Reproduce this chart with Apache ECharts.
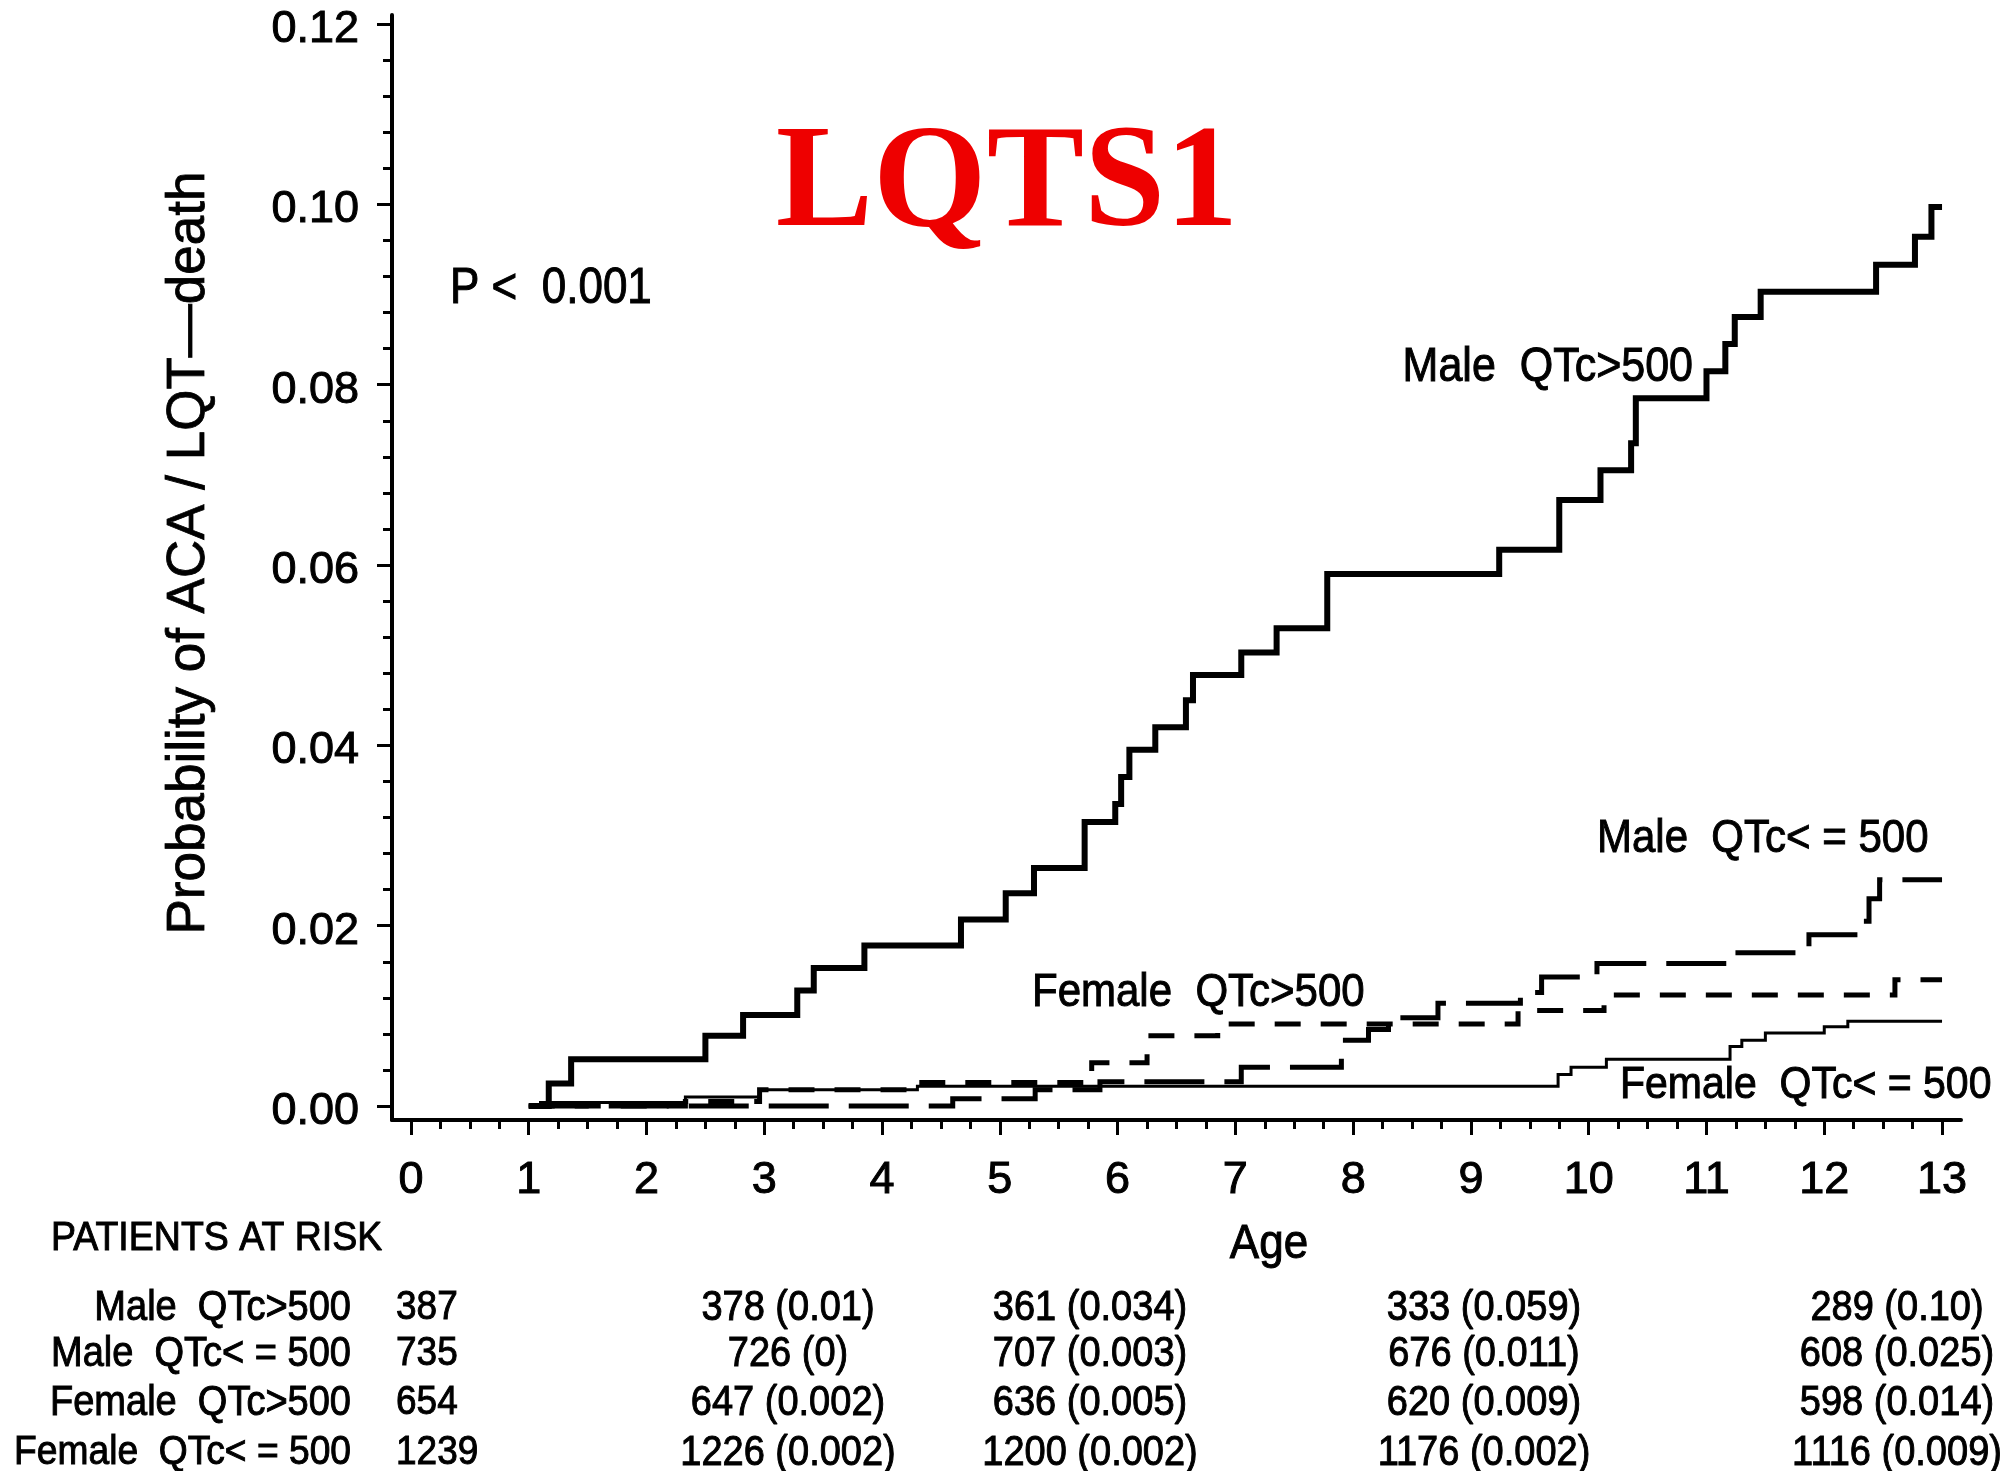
<!DOCTYPE html>
<html>
<head>
<meta charset="utf-8">
<script src="https://cdn.jsdelivr.net/npm/echarts@6/dist/echarts.min.js"></script>
<style>
html,body{margin:0;padding:0;background:#ffffff;}
#chart{width:2003px;height:1471px;}
</style>
</head>
<body>
<div id="chart"></div>
<script>
// ---------- data ----------
const xTickLabels = [0,1,2,3,4,5,6,7,8,9,10,11,12,13];
const xMinorTicks = [];
for (let i = 0; i <= 52; i++) xMinorTicks.push(i * 0.25);
const yTickLabels = [0, 0.02, 0.04, 0.06, 0.08, 0.10, 0.12];
const yMinorTicks = [];
for (let i = 0; i <= 30; i++) yMinorTicks.push(+(i * 0.004).toFixed(3));

const maleHighAge  = [1.0, 1.17, 1.36, 2.5, 2.82, 3.28, 3.42, 3.85, 4.67, 5.05, 5.29, 5.72, 5.98, 6.03, 6.1, 6.32, 6.58, 6.64, 7.05, 7.35, 7.78, 9.24, 9.75, 10.1, 10.36, 10.4, 11.0, 11.16, 11.24, 11.46, 12.44, 12.77, 12.91, 13.0];
const maleHighProb = [0, 0.0025, 0.0052, 0.0078, 0.0101, 0.0128, 0.0153, 0.0178, 0.0207, 0.0236, 0.0264, 0.0315, 0.0335, 0.0365, 0.0395, 0.042, 0.045, 0.0478, 0.0503, 0.053, 0.059, 0.0617, 0.0672, 0.0705, 0.0735, 0.0785, 0.0815, 0.0845, 0.0875, 0.0903, 0.0933, 0.0964, 0.0997, 0.0997];

const maleLowAge  = [1.0, 4.6, 5.3, 5.85, 7.05, 7.9, 8.13, 8.3, 8.72, 9.42, 9.6, 10.07, 11.2, 11.87, 12.3, 12.38, 12.47, 13.0];
const maleLowProb = [0, 0.0008, 0.0018, 0.0027, 0.0043, 0.0073, 0.0085, 0.0098, 0.0114, 0.0126, 0.0143, 0.0158, 0.017, 0.019, 0.0205, 0.023, 0.0251, 0.0251];

const femaleHighAge  = [1.0, 2.33, 2.96, 4.3, 5.78, 6.25, 6.85, 9.4, 10.13, 12.6, 13.0];
const femaleHighProb = [0, 0.0005, 0.0018, 0.0026, 0.0048, 0.0078, 0.0091, 0.0106, 0.0123, 0.014, 0.014];

const femaleLowAge  = [1.0, 1.1, 2.33, 2.96, 4.3, 9.74, 9.85, 10.15, 11.2, 11.3, 11.5, 12.0, 12.2, 13.0];
const femaleLowProb = [0, 0.0004, 0.001, 0.0018, 0.0022, 0.0035, 0.0043, 0.0052, 0.0066, 0.0073, 0.0081, 0.0088, 0.0094, 0.0094];

const riskGroups = ['Male  QTc>500', 'Male  QTc< = 500', 'Female  QTc>500', 'Female  QTc< = 500'];
const riskAt0  = [387, 735, 654, 1239];
const riskN1 = [378, 726, 647, 1226];
const riskP1 = ['0.01', '0', '0.002', '0.002'];
const riskN2 = [361, 707, 636, 1200];
const riskP2 = ['0.034', '0.003', '0.005', '0.002'];
const riskN3 = [333, 676, 620, 1176];
const riskP3 = ['0.059', '0.011', '0.009', '0.002'];
const riskN4 = [289, 608, 598, 1116];
const riskP4 = ['0.10', '0.025', '0.014', '0.009'];

// ---------- build ----------
const FONT = '"Liberation Sans", Arial, Helvetica, sans-serif';
function pairs(a, b) { return a.map((v, i) => [v, b[i]]); }

const graphics = [];
function txt(x, y, text, size, align, sy) {
  graphics.push({
    type: 'text', x: x, y: y, silent: true, scaleY: sy || 1.1,
    style: {
      text: text, fill: '#000', stroke: '#000', lineWidth: 0.9,
      align: align || 'left', verticalAlign: 'middle',
      font: 'normal ' + size + 'px ' + FONT
    }
  });
}

// title
graphics.push({type:'text', x:1007, y:187, silent:true,
  style:{text:'LQTS1', fill:'#ee0000', align:'center', verticalAlign:'middle',
  font:'bold 146px "Liberation Serif", "Times New Roman", serif'}});
// y axis title
graphics.push({type:'text', x:189, y:553, rotation: Math.PI/2, silent:true,
  style:{text:'Probability of ACA / LQT\u2014death', fill:'#000', stroke:'#000', lineWidth:0.8,
  align:'center', verticalAlign:'middle', font:'normal 53px ' + FONT}});
txt(450, 289, 'P <  0.001', 44, 'left', 1.12);
txt(1693, 368, 'Male  QTc>500', 43, 'right');
txt(1597, 839, 'Male  QTc< = 500', 42, 'left');
txt(1032, 993, 'Female  QTc>500', 42, 'left');
txt(1620, 1086, 'Female  QTc< = 500', 41, 'left');
txt(1269, 1245, 'Age', 44, 'center');
txt(51, 1239, 'PATIENTS AT RISK', 37.5, 'left');

const rowY = [1308, 1354, 1403, 1453];
const colX = [788, 1090, 1484, 1897];
const cols = [[riskN1, riskP1], [riskN2, riskP2], [riskN3, riskP3], [riskN4, riskP4]];
riskGroups.forEach((g, r) => {
  txt(351, rowY[r], g, r === 3 ? 37.2 : 38, 'right');
  txt(396, rowY[r], String(riskAt0[r]), 37, 'left');
  cols.forEach((c, k) => {
    txt(colX[k], rowY[r], c[0][r] + ' (' + c[1][r] + ')', 38, 'center');
  });
});

const axisColor = '#000';
const labelRich = { color: '#000', fontSize: 45, fontFamily: FONT, textBorderColor: '#000', textBorderWidth: 1 };
const option = {
  backgroundColor: '#ffffff',
  animation: false,
  grid: { left: 392, top: 15, width: 1569, height: 1105, containLabel: false },
  xAxis: [
    {
      type: 'value', min: -0.161, max: 13.161,
      axisLine: { show: true, onZero: false, lineStyle: { color: axisColor, width: 4 } },
      axisTick: { show: true, customValues: xTickLabels, length: 15, lineStyle: { color: axisColor, width: 3 } },
      axisLabel: Object.assign({ show: true, customValues: xTickLabels, margin: 38,
        formatter: v => String(Math.round(v)) }, labelRich),
      splitLine: { show: false }
    },
    {
      type: 'value', min: -0.161, max: 13.161, position: 'bottom', gridIndex: 0,
      axisLine: { show: false, onZero: false },
      axisTick: { show: true, customValues: xMinorTicks, length: 9, lineStyle: { color: axisColor, width: 3 } },
      axisLabel: { show: false },
      splitLine: { show: false }
    }
  ],
  yAxis: [
    {
      type: 'value', min: -0.00155, max: 0.121,
      axisLine: { show: true, onZero: false, lineStyle: { color: axisColor, width: 4 } },
      axisTick: { show: true, customValues: yTickLabels, length: 15, lineStyle: { color: axisColor, width: 3 } },
      axisLabel: { show: true, customValues: yTickLabels, margin: 33,
        formatter: v => '{v|' + v.toFixed(2) + '}',
        rich: { v: Object.assign({ padding: [11, 0, 0, 0] }, labelRich) } },
      splitLine: { show: false }
    },
    {
      type: 'value', min: -0.00155, max: 0.121, position: 'left', gridIndex: 0,
      axisLine: { show: false, onZero: false },
      axisTick: { show: true, customValues: yMinorTicks, length: 9, lineStyle: { color: axisColor, width: 3 } },
      axisLabel: { show: false },
      splitLine: { show: false }
    }
  ],
  series: [
    { name: 'Female QTc<=500', type: 'line', step: 'end', showSymbol: false, symbol: 'none',
      data: pairs(femaleLowAge, femaleLowProb), z: 2,
      lineStyle: { color: '#000', width: 3, cap: 'butt', join: 'miter' } },
    { name: 'Female QTc>500', type: 'line', step: 'end', showSymbol: false, symbol: 'none',
      data: pairs(femaleHighAge, femaleHighProb), z: 3,
      lineStyle: { color: '#000', width: 5, type: [26, 20], cap: 'butt', join: 'miter' } },
    { name: 'Male QTc<=500', type: 'line', step: 'end', showSymbol: false, symbol: 'none',
      data: pairs(maleLowAge, maleLowProb), z: 4,
      lineStyle: { color: '#000', width: 5, type: [60, 20], cap: 'butt', join: 'miter' } },
    { name: 'Male QTc>500', type: 'line', step: 'end', showSymbol: false, symbol: 'none',
      data: pairs(maleHighAge, maleHighProb), z: 5,
      lineStyle: { color: '#000', width: 6, cap: 'butt', join: 'miter' } }
  ],
  graphic: graphics
};

const chart = echarts.init(document.getElementById('chart'), null, { renderer: 'canvas' });
chart.setOption(option);
</script>
</body>
</html>
